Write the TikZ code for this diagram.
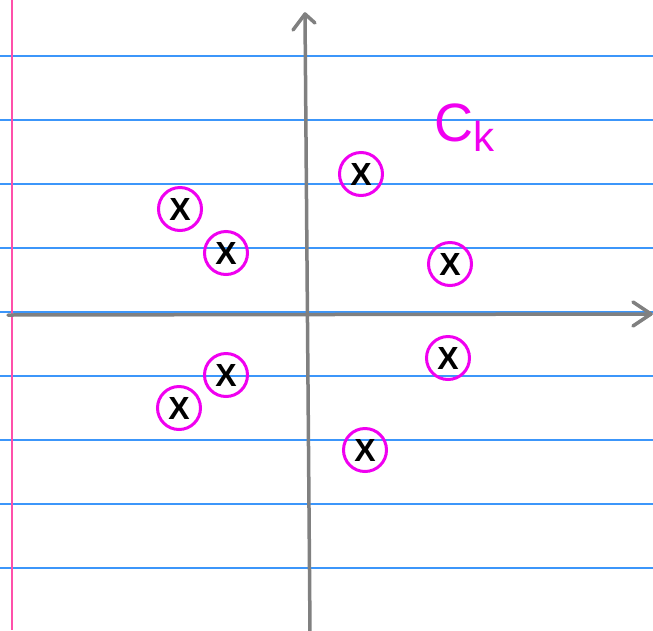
\documentclass[tikz,border=0pt]{standalone}
\usepackage{fontspec}
\setmainfont{Liberation Sans}
\definecolor{rule}{RGB}{60,150,250}
\definecolor{margin}{RGB}{255,80,170}
\definecolor{axis}{RGB}{128,128,128}
\definecolor{mag}{RGB}{240,0,240}
\begin{document}
\begin{tikzpicture}[x=1pt,y=-1pt,
  ruleline/.style={rule,line width=1.3pt},
  axisline/.style={axis,line width=3.5pt,line cap=round,line join=round},
  pole/.style={circle,draw=mag,line width=3pt,minimum size=43pt,inner sep=0pt,
     font=\bfseries\fontsize{32}{32}\selectfont,text=black},
]
\useasboundingbox (0,0) rectangle (653,630);
\fill[white] (0,0) rectangle (653,630);
\foreach \y in {56,120,184,248,312,376,440,504,568}
  \draw[ruleline] (0,\y) -- (653,\y);
\draw[margin,line width=1.6pt] (12,0) -- (12,630);
% axes
\coordinate (xs) at (8,315);
\coordinate (xe) at (651,314);
\coordinate (ys) at (310,632);
\coordinate (ye) at (305,14);
\draw[axisline] (xs) -- (xe);
\draw[axisline] (633,302) -- (xe) -- (633,326);
\draw[axisline] (ys) -- (ye);
\draw[axisline] (293,30) -- (ye) -- (315,23);
% poles
\node[pole] (p1) at (180,209) {X};
\node[pole] (p2) at (226,253) {X};
\node[pole] (p3) at (361,174) {X};
\node[pole] (p4) at (450,264) {X};
\node[pole] (p5) at (448,358) {X};
\node[pole] (p6) at (226,375) {X};
\node[pole] (p7) at (179,408) {X};
\node[pole] (p8) at (365,450) {X};
\node[text=mag,anchor=west,inner sep=0pt] (ck) at (434,128)
  {\fontsize{54}{54}\selectfont C\raisebox{-10pt}{\fontsize{42}{42}\selectfont k}};
\end{tikzpicture}
\end{document}
